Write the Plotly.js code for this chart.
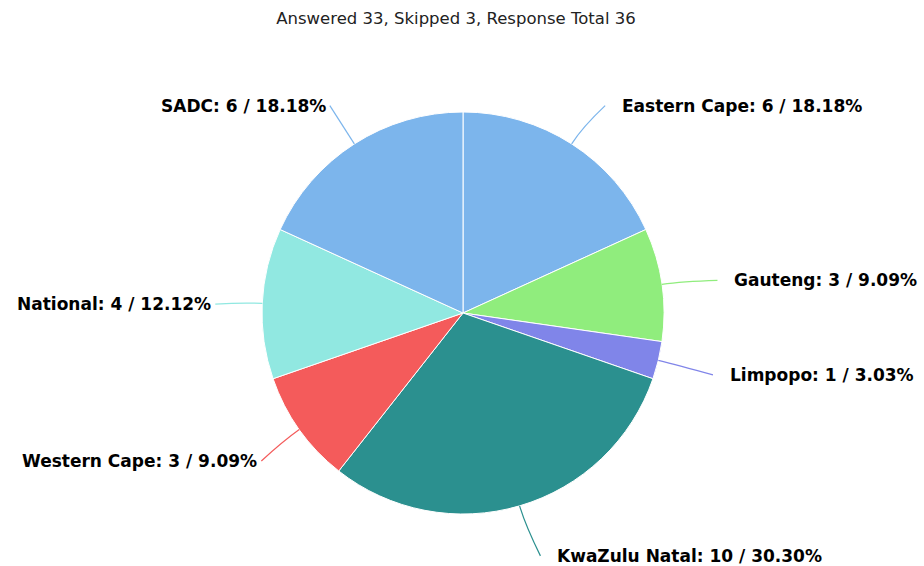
<!DOCTYPE html>
<html>
<head>
<meta charset="utf-8">
<script src="https://cdn.plot.ly/plotly-3.0.1.min.js"></script>
<style>html,body{margin:0;padding:0;background:#fff;}#chart{width:924px;height:566px;}</style>
</head>
<body>
<div id="chart"></div>
<script>
// ---- data ----
const categories = ["Eastern Cape", "Gauteng", "Limpopo", "KwaZulu Natal", "Western Cape", "National", "SADC"];
const counts = [6, 3, 1, 10, 3, 4, 6];
const sliceColors = ["#7cb5ec", "#90ed7d", "#8085e9", "#2b908f", "#f45b5b", "#91e8e1", "#7cb5ec"];
const titleText = "Answered 33, Skipped 3, Response Total 36";

// ---- layout geometry (pixels) ----
const W = 924, H = 566;
const cx = 463, cy = 313, r = 201;
const labelR = 250;

const total = counts.reduce((a, b) => a + b, 0);
const px = x => x / W;
const py = y => (H - y) / H;

const annotations = [];
const shapes = [];
let cum = 0;
counts.forEach((v, i) => {
  const mid = (cum + v / 2) / total * 2 * Math.PI;
  cum += v;
  const s = Math.sin(mid), c = Math.cos(mid);
  const right = s >= 0;
  const ly = cy - labelR * c + 3;
  const baseX = cx + labelR * s;
  const lx = right ? baseX + 22 : baseX;
  const endX = right ? lx - 15 : lx + 2;
  const x0 = cx + r * s, y0 = cy - r * c;
  const qx = cx + (r + 20) * s, qy = cy - (r + 20) * c;
  shapes.push({
    type: "path", xref: "paper", yref: "paper",
    path: `M ${px(x0)} ${py(y0)} Q ${px(qx)} ${py(qy)} ${px(endX)} ${py(ly)}`,
    line: {color: sliceColors[i], width: 1.2}
  });
  const pct = (v / total * 100).toFixed(2);
  annotations.push({
    xref: "paper", yref: "paper", x: px(lx), y: py(ly),
    xanchor: right ? "left" : "right", yanchor: "middle",
    text: `<b>${categories[i]}: ${v} / ${pct}%</b>`,
    showarrow: false,
    font: {family: "DejaVu Sans", size: 17, color: "#000"}
  });
});

const trace = {
  type: "pie",
  labels: categories,
  values: counts,
  sort: false,
  direction: "clockwise",
  rotation: 0,
  marker: {colors: sliceColors, line: {color: "#ffffff", width: 1}},
  textinfo: "none",
  hoverinfo: "label+value+percent",
  showlegend: false,
  domain: {x: [px(cx - r), px(cx + r)], y: [py(cy + r), py(cy - r)]}
};

const layout = {
  width: W, height: H,
  margin: {l: 0, r: 0, t: 0, b: 0},
  paper_bgcolor: "#ffffff",
  title: {
    text: titleText,
    x: 456 / W, xanchor: "center",
    y: 1 - 18 / H, yanchor: "middle",
    font: {family: "DejaVu Sans", size: 16.5, color: "#222222"}
  },
  annotations: annotations,
  shapes: shapes,
  showlegend: false
};

Plotly.newPlot("chart", [trace], layout, {displayModeBar: false, staticPlot: true});
</script>
</body>
</html>
